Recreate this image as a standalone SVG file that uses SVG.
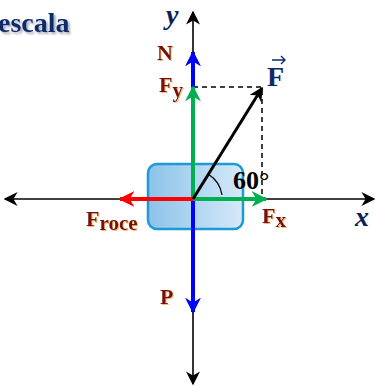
<svg xmlns="http://www.w3.org/2000/svg" width="378" height="386" viewBox="0 0 378 386">
<defs>
<linearGradient id="boxg" x1="0" y1="0" x2="1" y2="0">
<stop offset="0" stop-color="#8cc3ea"/>
<stop offset="1" stop-color="#d6e9f8"/>
</linearGradient>
<filter id="sh" x="-10%" y="-20%" width="130%" height="150%"><feDropShadow dx="2" dy="2" stdDeviation="1" flood-color="#8a94a8" flood-opacity="0.8"/></filter>
<filter id="lsh" x="-10%" y="-20%" width="130%" height="150%"><feDropShadow dx="1" dy="1" stdDeviation="0.6" flood-color="#e8a040" flood-opacity="0.7"/></filter>
<marker id="ak" viewBox="0 0 10 10" refX="9" refY="5" markerWidth="14" markerHeight="14" markerUnits="userSpaceOnUse" orient="auto"><path d="M0,0 L10,5 L0,10 L3,5 z" fill="#000"/></marker>
<marker id="ab" viewBox="0 0 10 10" refX="9" refY="5" markerWidth="16" markerHeight="16" markerUnits="userSpaceOnUse" orient="auto"><path d="M0,0 L10,5 L0,10 L3,5 z" fill="#0000ff"/></marker>
<marker id="ag" viewBox="0 0 10 10" refX="9" refY="5" markerWidth="16" markerHeight="16" markerUnits="userSpaceOnUse" orient="auto"><path d="M0,0 L10,5 L0,10 L3,5 z" fill="#00b050"/></marker>
<marker id="ar" viewBox="0 0 10 10" refX="9" refY="5" markerWidth="16" markerHeight="16" markerUnits="userSpaceOnUse" orient="auto"><path d="M0,0 L10,5 L0,10 L3,5 z" fill="#ff0000"/></marker>
<marker id="af" viewBox="0 0 10 10" refX="9" refY="5" markerWidth="14" markerHeight="14" markerUnits="userSpaceOnUse" orient="auto"><path d="M0,0 L10,5 L0,10 L3,5 z" fill="#000"/></marker>
</defs>
<style>
.lbl{font-family:"Liberation Serif",serif;font-weight:bold;fill:#7a0a0a;font-size:22px}
.sub{font-size:21px}
.ax{font-family:"Liberation Serif",serif;font-style:italic;font-weight:bold;fill:#0b2150;font-size:28px}
.axis{stroke:#000;stroke-width:1.6;fill:none}
</style>
<text x="-2" y="32" font-family="Liberation Serif, serif" font-weight="bold" font-size="28" fill="#0f2a6b" filter="url(#sh)">escala</text>
<g id="block"><rect x="148" y="164" width="95" height="65" rx="9" fill="url(#boxg)" stroke="#1b9ad6" stroke-width="2.5"/></g>
<g id="connectors">
<line class="axis" x1="193" y1="199" x2="5" y2="199" marker-end="url(#ak)"/>
<line class="axis" x1="193" y1="199" x2="374" y2="199" marker-end="url(#ak)"/>
<line class="axis" x1="193" y1="199" x2="193" y2="12" marker-end="url(#ak)"/>
<line class="axis" x1="193" y1="199" x2="193" y2="384" marker-end="url(#ak)"/>
<path d="M193,87 H262 V199" fill="none" stroke="#000" stroke-width="1.5" stroke-dasharray="5,4"/>
<line x1="193" y1="199" x2="193" y2="52" stroke="#0000ff" stroke-width="4" marker-end="url(#ab)"/>
<line x1="193" y1="199" x2="193" y2="312" stroke="#0000ff" stroke-width="4" marker-end="url(#ab)"/>
<line x1="193" y1="199" x2="193" y2="87" stroke="#00b050" stroke-width="4" marker-end="url(#ag)"/>
<line x1="193" y1="199" x2="266" y2="199" stroke="#00b050" stroke-width="4" marker-end="url(#ag)"/>
<line x1="193" y1="199" x2="120" y2="199" stroke="#ff0000" stroke-width="4" marker-end="url(#ar)"/>
<line x1="193" y1="199" x2="262" y2="88" stroke="#000" stroke-width="3" marker-end="url(#af)"/>
<path d="M208,174 A30,30 0 0 1 222,195" fill="none" stroke="#000" stroke-width="1.3"/>
</g>
<g id="labels">
<text class="ax" x="166" y="24">y</text>
<text class="ax" x="355" y="226">x</text>
<text class="lbl" x="157" y="60" filter="url(#lsh)">N</text>
<text class="lbl" x="159" y="92" filter="url(#lsh)">F<tspan class="sub" dy="5">y</tspan></text>
<text class="lbl" x="262" y="223" filter="url(#lsh)">F<tspan class="sub" dy="4">x</tspan></text>
<text class="lbl" x="86" y="226" filter="url(#lsh)">F<tspan class="sub" dy="4">roce</tspan></text>
<text class="lbl" x="160" y="304" filter="url(#lsh)">P</text>
<text x="233" y="189" font-family="Liberation Serif, serif" font-size="26" font-weight="bold" fill="#000">60°</text>
<text x="267" y="86" font-family="Liberation Serif, serif" font-size="28" font-weight="bold" fill="#0f2a6b">F</text>
<path d="M272,60 H285 M281,56 L285,60 L281,64" fill="none" stroke="#0f2a6b" stroke-width="1.4"/>
</g>
</svg>
